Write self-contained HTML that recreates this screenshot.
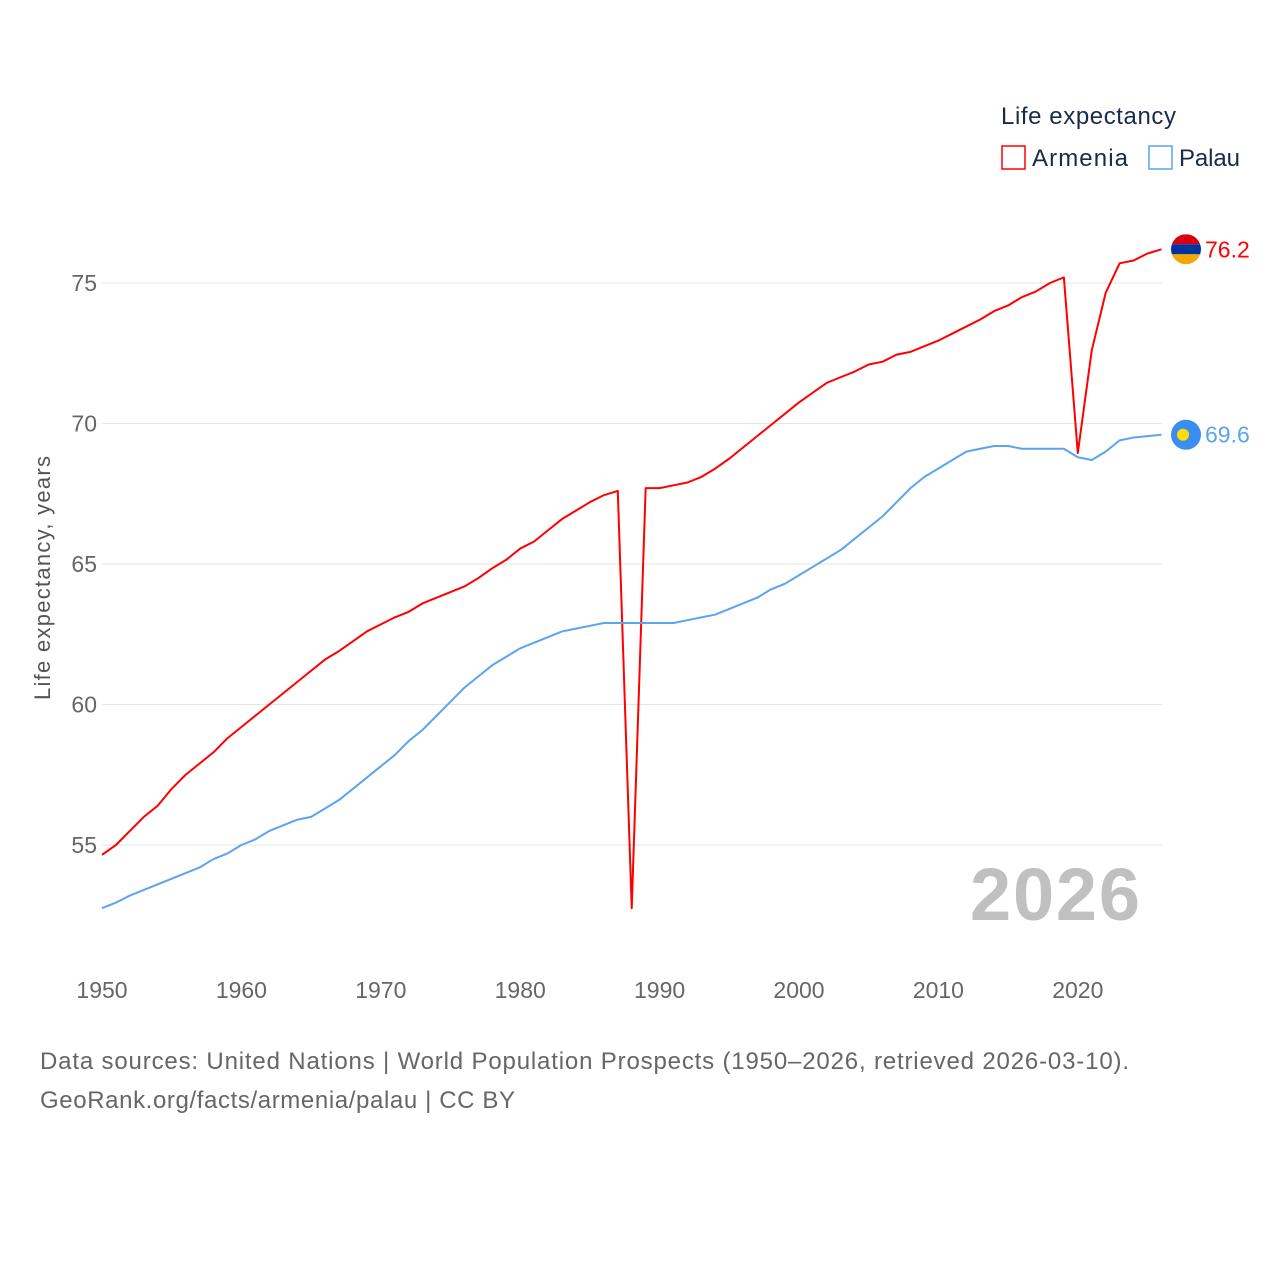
<!DOCTYPE html>
<html><head><meta charset="utf-8"><style>
body{margin:0;background:#fff;font-family:"Liberation Sans",sans-serif}
svg text{font-family:"Liberation Sans",sans-serif}
</style></head><body>
<svg id="chart" width="1280" height="1280" xmlns="http://www.w3.org/2000/svg">
<g id="grid"></g>
<g id="lines"></g>
<text x="970" y="920" textLength="170" font-size="74" font-weight="bold" fill="#c0c0c0">2026</text>
<text transform="translate(50,578) rotate(-90)" text-anchor="middle" font-size="22" fill="#555" textLength="244">Life expectancy, years</text>
<g>
<text x="1001" y="124" font-size="24" fill="#1a2a4a" textLength="175">Life expectancy</text>
<rect x="1002" y="146" width="23" height="23" fill="none" stroke="#f00" stroke-width="1.5"/>
<text x="1032" y="166" font-size="24" fill="#1a2a4a" textLength="96">Armenia</text>
<rect x="1149" y="146" width="23" height="23" fill="none" stroke="#5ba4ee" stroke-width="1.5"/>
<text x="1179" y="166" font-size="24" fill="#1a2a4a" textLength="61">Palau</text>
</g>
<text x="40" y="1069" font-size="24" fill="#666" textLength="1089">Data sources: United Nations | World Population Prospects (1950–2026, retrieved 2026-03-10).</text>
<text x="40" y="1108" font-size="24" fill="#666" textLength="475">GeoRank.org/facts/armenia/palau | CC BY</text>
</svg>
<script>
const years=[];for(let y=1950;y<=2026;y++)years.push(y);
const armenia=[54.65,55.0,55.5,56.0,56.4,57.0,57.5,57.9,58.3,58.8,59.2,59.6,60.0,60.4,60.8,61.2,61.6,61.9,62.25,62.6,62.85,63.1,63.3,63.6,63.8,64.0,64.2,64.5,64.85,65.15,65.55,65.8,66.2,66.6,66.9,67.2,67.45,67.6,52.75,67.7,67.7,67.8,67.9,68.1,68.4,68.75,69.15,69.55,69.95,70.35,70.75,71.1,71.45,71.65,71.85,72.1,72.2,72.45,72.55,72.75,72.95,73.2,73.45,73.7,74.0,74.2,74.5,74.7,75.0,75.2,68.95,72.6,74.65,75.7,75.8,76.05,76.2];
const palau=[52.75,52.95,53.2,53.4,53.6,53.8,54.0,54.2,54.5,54.7,55.0,55.2,55.5,55.7,55.9,56.0,56.3,56.6,57.0,57.4,57.8,58.2,58.7,59.1,59.6,60.1,60.6,61.0,61.4,61.7,62.0,62.2,62.4,62.6,62.7,62.8,62.9,62.9,62.9,62.9,62.9,62.9,63.0,63.1,63.2,63.4,63.6,63.8,64.1,64.3,64.6,64.9,65.2,65.5,65.9,66.3,66.7,67.2,67.7,68.1,68.4,68.7,69.0,69.1,69.2,69.2,69.1,69.1,69.1,69.1,68.8,68.7,69.0,69.4,69.5,69.55,69.6];
const yTicks=[55,60,65,70,75];
const xTicks=[1950,1960,1970,1980,1990,2000,2010,2020];
const X=y=>102+(y-1950)*13.94;
const Y=v=>283+(75-v)*28.1;
const NS='http://www.w3.org/2000/svg';
const mk=(t,a,p)=>{const e=document.createElementNS(NS,t);for(const k in a)e.setAttribute(k,a[k]);p.appendChild(e);return e;};
const grid=document.getElementById('grid'),lines=document.getElementById('lines'),svg=document.getElementById('chart');
yTicks.forEach(v=>{
 const l=mk('line',{x1:102,x2:1162,y1:Y(v),y2:Y(v),stroke:'#e6e6e6','stroke-width':1},grid);
 
 
 const t=mk('text',{x:97,y:Y(v)+8,'text-anchor':'end','font-size':23,fill:'#666'},grid);
 t.textContent=v;
 
 
});
xTicks.forEach(v=>{
 const t=mk('text',{x:X(v),y:998,'text-anchor':'middle','font-size':23,fill:'#666'},grid);
 t.textContent=v;
 
 
});
function series(vals,color,name){
 const p=mk('polyline',{points:vals.map((v,i)=>X(years[i])+','+Y(v)).join(' '),fill:'none',stroke:color,'stroke-width':2,'stroke-linejoin':'round'},lines);
 
 
 const last=vals[vals.length-1];
 const t=mk('text',{x:1205,y:Y(last)+8,'font-size':23,fill:color},svg);
 t.textContent=last.toFixed(1);
 
 
 return Y(last);
}
const ya=series(armenia,'#f00','armenia');
const yp=series(palau,'#5ba4ee','palau');
const fa=mk('g',{},svg);


const cp=mk('clipPath',{id:'ca'},fa);
mk('circle',{cx:1186,cy:ya,r:15},cp);
const cg=mk('g',{'clip-path':'url(#ca)'},fa);
mk('rect',{x:1171,y:ya-15,width:30,height:10,fill:'#d90012'},cg);
mk('rect',{x:1171,y:ya-5,width:30,height:10,fill:'#0033a0'},cg);
mk('rect',{x:1171,y:ya+5,width:30,height:10,fill:'#f2a800'},cg);
const fp=mk('g',{},svg);


mk('circle',{cx:1186,cy:yp,r:15,fill:'#3a8ef0'},fp);
mk('circle',{cx:1183,cy:yp,r:6,fill:'#ffde00'},fp);
</script>
</body></html>
